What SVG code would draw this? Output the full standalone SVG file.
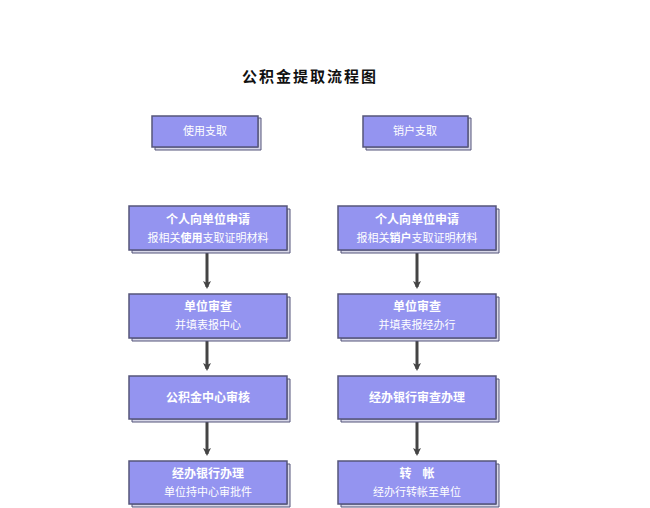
<svg xmlns="http://www.w3.org/2000/svg" width="650" height="508" viewBox="0 0 650 508">
<style>
.b{fill:#9494f0;stroke:#55557a;stroke-width:1.5}
.s{fill:#d8d8e8;stroke:#55557a;stroke-width:1}
.t{font-family:"Noto Sans CJK SC",sans-serif;fill:#fff;text-anchor:middle;font-size:11px}
.h{font-weight:bold;font-size:12px}
.c{stroke:#444;stroke-width:3;fill:none}
</style>
<defs>
<marker id="a" markerWidth="8" markerHeight="8" refX="6" refY="4" orient="auto" markerUnits="userSpaceOnUse" viewBox="0 0 8 8"><path d="M0,0 L8,4 L0,8 L2,4 Z" fill="#444"/></marker>
</defs>
<rect width="650" height="508" fill="#fff"/>
<text x="310" y="82" font-family="Noto Sans CJK SC,sans-serif" font-size="15" font-weight="bold" text-anchor="middle" letter-spacing="2" fill="#111">公积金提取流程图</text>
<g id="connectors">
<path class="c" d="M207,253 V287" marker-end="url(#a)"/>
<path class="c" d="M207,341 V369" marker-end="url(#a)"/>
<path class="c" d="M207,421 V454" marker-end="url(#a)"/>
<path class="c" d="M417,253 V287" marker-end="url(#a)"/>
<path class="c" d="M417,341 V369" marker-end="url(#a)"/>
<path class="c" d="M417,421 V454" marker-end="url(#a)"/>
</g>
<g id="n1"><path class="s" d="M155,150 H261 V118 H258 V147 H155Z"/><rect class="b" x="152" y="116" width="106" height="31"/><text class="t" x="205" y="135">使用支取</text></g>
<g id="n2"><path class="s" d="M366,150 H471 V118 H468 V147 H366Z"/><rect class="b" x="363" y="116" width="105" height="31"/><text class="t" x="415" y="135">销户支取</text></g>
<g id="n3"><path class="s" d="M132,253 H290 V209 H287 V250 H132Z"/><rect class="b" x="129" y="206" width="158" height="44"/><text class="t h" x="208" y="224">个人向单位申请</text><text class="t" x="208" y="242">报相关<tspan font-weight="bold">使用</tspan>支取证明材料</text></g>
<g id="n4"><path class="s" d="M341,253 H499 V209 H496 V250 H341Z"/><rect class="b" x="338" y="206" width="158" height="44"/><text class="t h" x="417" y="224">个人向单位申请</text><text class="t" x="417" y="242">报相关<tspan font-weight="bold">销户</tspan>支取证明材料</text></g>
<g id="n5"><path class="s" d="M132,341 H290 V297 H287 V338 H132Z"/><rect class="b" x="129" y="294" width="158" height="44"/><text class="t h" x="208" y="311">单位审查</text><text class="t" x="208" y="329">并填表报中心</text></g>
<g id="n6"><path class="s" d="M341,341 H499 V297 H496 V338 H341Z"/><rect class="b" x="338" y="294" width="158" height="44"/><text class="t h" x="417" y="311">单位审查</text><text class="t" x="417" y="329">并填表报经办行</text></g>
<g id="n7"><path class="s" d="M132,422 H290 V379 H287 V419 H132Z"/><rect class="b" x="129" y="376" width="158" height="43"/><text class="t h" x="208" y="402">公积金中心审核</text></g>
<g id="n8"><path class="s" d="M341,422 H499 V379 H496 V419 H341Z"/><rect class="b" x="338" y="376" width="158" height="43"/><text class="t h" x="417" y="402">经办银行审查办理</text></g>
<g id="n9"><path class="s" d="M132,507 H290 V464 H287 V504 H132Z"/><rect class="b" x="129" y="461" width="158" height="43"/><text class="t h" x="208" y="478">经办银行办理</text><text class="t" x="208" y="496">单位持中心审批件</text></g>
<g id="n10"><path class="s" d="M341,507 H499 V464 H496 V504 H341Z"/><rect class="b" x="338" y="461" width="158" height="43"/><text class="t h" x="417" y="478" xml:space="preserve">转    帐</text><text class="t" x="417" y="496">经办行转帐至单位</text></g>
</svg>
